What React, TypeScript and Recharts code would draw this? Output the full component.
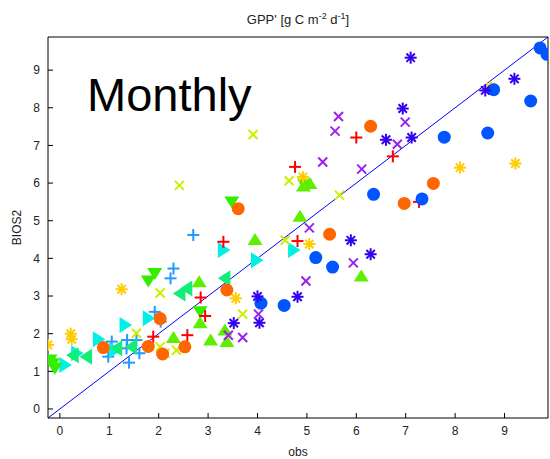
import { ScatterChart, Scatter, XAxis, YAxis, ReferenceLine, Label } from "recharts";

// axis limits (same on both axes, MATLAB "tight" look)
const axisMin = -0.24;
const axisMax = 9.88;
const tickValues = [0, 1, 2, 3, 4, 5, 6, 7, 8, 9];

// [obs, BIOS2] pairs, one array per site
const blueCircles: [number, number][] = [
  [4.07, 2.81], [4.54, 2.75], [5.18, 4.02], [5.52, 3.77], [6.35, 5.7], [7.33, 5.58],
  [7.78, 7.22], [8.66, 7.33], [8.78, 8.48], [9.53, 8.18], [9.72, 9.59], [9.86, 9.42],
];
const orangeCircles: [number, number][] = [
  [0.88, 1.63], [1.79, 1.66], [2.03, 2.4], [2.08, 1.46], [2.53, 1.65], [3.38, 3.16],
  [3.61, 5.32], [5.46, 4.64], [6.29, 7.51], [6.97, 5.46], [7.56, 5.99],
];
const darkBlueStars: [number, number][] = [
  [3.52, 2.28], [4.0, 2.99], [4.04, 2.29], [4.81, 2.98], [5.89, 4.48], [6.29, 4.11],
  [6.6, 7.15], [6.94, 7.98], [7.12, 7.21], [7.1, 9.33], [8.61, 8.46], [9.2, 8.77],
];
const purpleCrosses: [number, number][] = [
  [3.41, 1.96], [3.7, 1.9], [4.02, 2.52], [4.98, 3.4], [5.05, 4.81], [5.32, 6.56],
  [5.57, 7.38], [5.64, 7.77], [5.94, 3.88], [6.11, 6.37], [6.83, 7.03], [6.99, 7.62],
];
const redPluses: [number, number][] = [
  [1.89, 1.92], [2.58, 1.96], [2.85, 2.96], [2.94, 2.47], [3.31, 4.44], [4.76, 6.43],
  [4.81, 4.46], [6.0, 7.21], [6.74, 6.71], [7.27, 5.5],
];
const limeCrosses: [number, number][] = [
  [1.55, 2.01], [2.03, 1.65], [2.03, 3.08], [2.13, 1.48], [2.36, 1.56], [2.42, 5.94],
  [3.7, 2.52], [3.91, 7.29], [4.56, 4.48], [4.64, 6.06], [5.66, 5.68],
];
const goldStars: [number, number][] = [
  [-0.24, 1.7], [0.22, 2.0], [0.24, 1.85], [1.25, 3.18], [3.56, 2.94], [4.92, 6.16],
  [5.05, 4.38], [8.1, 6.41], [9.22, 6.52], [8.72, 8.55],
];
const greenUp: [number, number][] = [
  [2.3, 1.9], [2.82, 3.38], [2.84, 2.29], [3.05, 1.83], [3.34, 2.1], [3.38, 1.79],
  [3.95, 4.5], [4.86, 5.12], [4.93, 5.92], [5.06, 5.99], [6.1, 3.53],
];
const greenDown: [number, number][] = [
  [-0.2, 1.3], [-0.1, 1.08], [-0.15, 1.2], [1.79, 3.4], [1.92, 3.6], [2.84, 2.58],
  [3.48, 5.5], [4.95, 5.97],
];
const springLeft: [number, number][] = [
  [0.27, 1.43], [0.54, 1.39], [1.15, 1.61], [1.45, 1.65], [2.43, 3.07], [2.57, 3.2],
  [3.34, 3.47],
];
const cyanRight: [number, number][] = [
  [0.1, 1.17], [0.34, 1.48], [0.78, 1.85], [1.11, 1.56], [1.32, 2.23], [1.79, 2.41],
  [3.31, 4.22], [3.98, 3.95], [4.73, 4.22],
];
const lightBluePluses: [number, number][] = [
  [0.98, 1.39], [1.05, 1.79], [1.35, 1.61], [1.36, 1.83], [1.4, 1.23], [1.55, 1.83],
  [1.61, 1.48], [1.92, 2.58], [2.04, 2.32], [2.24, 3.47], [2.3, 3.73], [2.7, 4.62],
];

const rows = (pts: [number, number][]) => pts.map(([x, y]) => ({ x, y }));

function marker(kind: string, color: string) {
  return (props: any) => {
    const { cx, cy } = props;
    if (cx == null || cy == null) return <g />;
    const s = 2;
    switch (kind) {
      case "circle":
        return <circle cx={cx} cy={cy} r={6.5} fill={color} />;
      case "up":
        return <polygon points={`${cx - 7.5},${cy + 5.5} ${cx + 7.5},${cy + 5.5} ${cx},${cy - 6.5}`} fill={color} />;
      case "down":
        return <polygon points={`${cx - 7.5},${cy - 5.5} ${cx + 7.5},${cy - 5.5} ${cx},${cy + 6.5}`} fill={color} />;
      case "left":
        return <polygon points={`${cx + 5.5},${cy - 8} ${cx + 5.5},${cy + 8} ${cx - 7},${cy}`} fill={color} />;
      case "right":
        return <polygon points={`${cx - 5.5},${cy - 8} ${cx - 5.5},${cy + 8} ${cx + 7},${cy}`} fill={color} />;
      case "plus":
        return (
          <g stroke={color} strokeWidth={s}>
            <line x1={cx - 6} y1={cy} x2={cx + 6} y2={cy} />
            <line x1={cx} y1={cy - 6} x2={cx} y2={cy + 6} />
          </g>
        );
      case "cross":
        return (
          <g stroke={color} strokeWidth={s}>
            <line x1={cx - 4.5} y1={cy - 4.5} x2={cx + 4.5} y2={cy + 4.5} />
            <line x1={cx - 4.5} y1={cy + 4.5} x2={cx + 4.5} y2={cy - 4.5} />
          </g>
        );
      default:
        // asterisk
        return (
          <g stroke={color} strokeWidth={s}>
            <line x1={cx - 6} y1={cy} x2={cx + 6} y2={cy} />
            <line x1={cx} y1={cy - 6} x2={cx} y2={cy + 6} />
            <line x1={cx - 4.2} y1={cy - 4.2} x2={cx + 4.2} y2={cy + 4.2} />
            <line x1={cx - 4.2} y1={cy + 4.2} x2={cx + 4.2} y2={cy - 4.2} />
          </g>
        );
    }
  };
}

const series = [
  { name: "lb", data: lightBluePluses, kind: "plus", color: "#2299ff" },
  { name: "cy", data: cyanRight, kind: "right", color: "#00f0e6" },
  { name: "sp", data: springLeft, kind: "left", color: "#11ee77" },
  { name: "gd", data: greenDown, kind: "down", color: "#33ee00" },
  { name: "gu", data: greenUp, kind: "up", color: "#5fee00" },
  { name: "li", data: limeCrosses, kind: "cross", color: "#ccee00" },
  { name: "go", data: goldStars, kind: "star", color: "#ffcc00" },
  { name: "rd", data: redPluses, kind: "plus", color: "#ff0000" },
  { name: "or", data: orangeCircles, kind: "circle", color: "#ff6600" },
  { name: "bl", data: blueCircles, kind: "circle", color: "#0055ff" },
  { name: "db", data: darkBlueStars, kind: "star", color: "#3300ee" },
  { name: "pu", data: purpleCrosses, kind: "cross", color: "#9922ee" },
];

const font = "'Liberation Sans', Arial, sans-serif";
const tickStyle = { fontSize: 12, fill: "#222", fontFamily: font };

export default function App() {
  return (
    <div style={{ position: "absolute", left: 0, top: 0, width: 550, height: 459, background: "#fff" }}>
      <ScatterChart width={550} height={459} margin={{ top: 0, right: 0, bottom: 0, left: 0 }}>
        <XAxis
          type="number"
          dataKey="x"
          domain={[axisMin, axisMax]}
          allowDataOverflow
          ticks={tickValues}
          interval={0}
          height={41}
          tickSize={-5}
          tickMargin={13}
          stroke="#000"
          tick={tickStyle}
        >
          <Label value="obs" position="insideBottom" offset={3} style={{ fontSize: 12, fill: "#222", fontFamily: font }} />
        </XAxis>
        <XAxis
          xAxisId="top"
          orientation="top"
          type="number"
          domain={[axisMin, axisMax]}
          allowDataOverflow
          ticks={tickValues}
          interval={0}
          height={37}
          tickSize={-5}
          tick={false}
          stroke="#000"
        />
        <YAxis
          type="number"
          dataKey="y"
          domain={[axisMin, axisMax]}
          allowDataOverflow
          ticks={tickValues}
          interval={0}
          width={48}
          tickSize={-5}
          tickMargin={13}
          stroke="#000"
          tick={tickStyle}
        >
          <Label
            value="BIOS2"
            angle={-90}
            position="insideLeft"
            offset={17}
            style={{ fontSize: 12, fill: "#222", fontFamily: font, textAnchor: "middle" }}
          />
        </YAxis>
        <YAxis
          yAxisId="right"
          orientation="right"
          type="number"
          domain={[axisMin, axisMax]}
          allowDataOverflow
          ticks={tickValues}
          interval={0}
          width={2}
          tickSize={-5}
          tick={false}
          stroke="#000"
        />
        {series.map((s) => (
          <Scatter
            key={s.name}
            name={s.name}
            data={rows(s.data)}
            shape={marker(s.kind, s.color)}
            isAnimationActive={false}
          />
        ))}
        <ReferenceLine
          segment={[{ x: axisMin, y: axisMin }, { x: axisMax, y: axisMax }]}
          stroke="#0000ff"
          strokeWidth={1}
        />
      </ScatterChart>
      <div
        style={{
          position: "absolute",
          left: 48,
          width: 500,
          top: 8,
          textAlign: "center",
          fontFamily: font,
          fontSize: 13,
          lineHeight: "16px",
          color: "#222",
        }}
      >
        GPP' [g C m<sup style={{ fontSize: 9 }}>-2</sup> d<sup style={{ fontSize: 9 }}>-1</sup>]
      </div>
      <div
        style={{
          position: "absolute",
          left: 87,
          top: 71,
          fontFamily: font,
          fontSize: 47,
          lineHeight: "47px",
          color: "#000",
        }}
      >
        Monthly
      </div>
    </div>
  );
}
